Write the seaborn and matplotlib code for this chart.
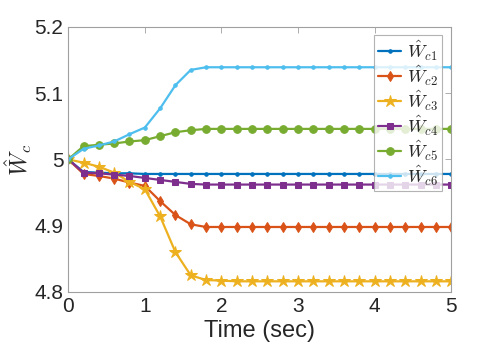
import matplotlib
matplotlib.use("Agg")
import matplotlib.pyplot as plt
import seaborn as sns
import numpy as np
import pandas as pd

# time samples (markers every 0.2 s)
t = np.round(np.arange(0, 5.01, 0.2), 1)

wc1 = [5.000, 4.981, 4.980, 4.979, 4.979, 4.978] + [4.978] * 20
wc2 = [5.000, 4.978, 4.975, 4.971, 4.965, 4.960, 4.937, 4.916, 4.902, 4.898] + [4.898] * 16
wc3 = [5.000, 4.995, 4.989, 4.980, 4.966, 4.955, 4.914, 4.860, 4.825, 4.818, 4.817] + [4.816] * 15
wc4 = [5.000, 4.980, 4.979, 4.977, 4.975, 4.972, 4.969, 4.966, 4.963, 4.962] + [4.962] * 16
wc5 = [5.000, 5.020, 5.022, 5.024, 5.027, 5.029, 5.035, 5.041, 5.044, 5.046] + [5.046] * 16
wc6 = [5.000, 5.016, 5.021, 5.027, 5.038, 5.048, 5.077, 5.112, 5.135, 5.139] + [5.139] * 16

series = [wc1, wc2, wc3, wc4, wc5, wc6]
labels = [r"$\hat{W}_{c1}$", r"$\hat{W}_{c2}$", r"$\hat{W}_{c3}$",
          r"$\hat{W}_{c4}$", r"$\hat{W}_{c5}$", r"$\hat{W}_{c6}$"]
colors = ["#0072BD", "#D95319", "#EDB120", "#7E2F8E", "#77AC30", "#4DBEEE"]
markers = [".", "d", "*", "s", "o", "."]
msizes = [5, 5, 9, 4.5, 5.5, 5]

sns.set_style("white")
plt.rcParams['font.family'] = ['Liberation Sans', 'DejaVu Sans']
plt.rcParams['mathtext.fontset'] = 'cm'

fig = plt.figure(figsize=(4.98, 3.53), dpi=100)
ax = fig.add_axes([0.137, 0.173, 0.769, 0.751])

for vals, lab, c, m, ms in zip(series, labels, colors, markers, msizes):
    df = pd.DataFrame({"t": t, "w": vals})
    sns.lineplot(data=df, x="t", y="w", ax=ax, color=c, marker=m, markersize=ms,
                 markeredgecolor=c, linewidth=1.6, label=lab)

ax.set_xlim(0, 5)
ax.set_ylim(4.8, 5.2)
ax.set_xticks([0, 1, 2, 3, 4, 5])
ax.set_yticks([4.8, 4.9, 5.0, 5.1, 5.2])
ax.set_yticklabels(["4.8", "4.9", "5", "5.1", "5.2"])
ax.tick_params(direction="in", top=True, right=True, length=4, width=0.6,
               colors="#a0a0a0", labelcolor="#262626", labelsize=15)
for s in ax.spines.values():
    s.set_color("#a0a0a0")
    s.set_linewidth(0.8)

ax.set_xlabel("Time (sec)", fontsize=17, color="#262626", labelpad=3)
ax.set_ylabel(r"$\hat{W}_c$", fontsize=17, color="#262626", labelpad=0)

leg = ax.legend(loc="upper right", bbox_to_anchor=(0.975, 0.97), fontsize=13,
                handlelength=1.3, labelspacing=0.05, borderpad=0.2,
                handletextpad=0.3, frameon=True, fancybox=False,
                borderaxespad=0)
leg.get_frame().set_edgecolor("#a0a0a0")
leg.get_frame().set_linewidth(0.8)

plt.savefig("out.png", dpi=100)
